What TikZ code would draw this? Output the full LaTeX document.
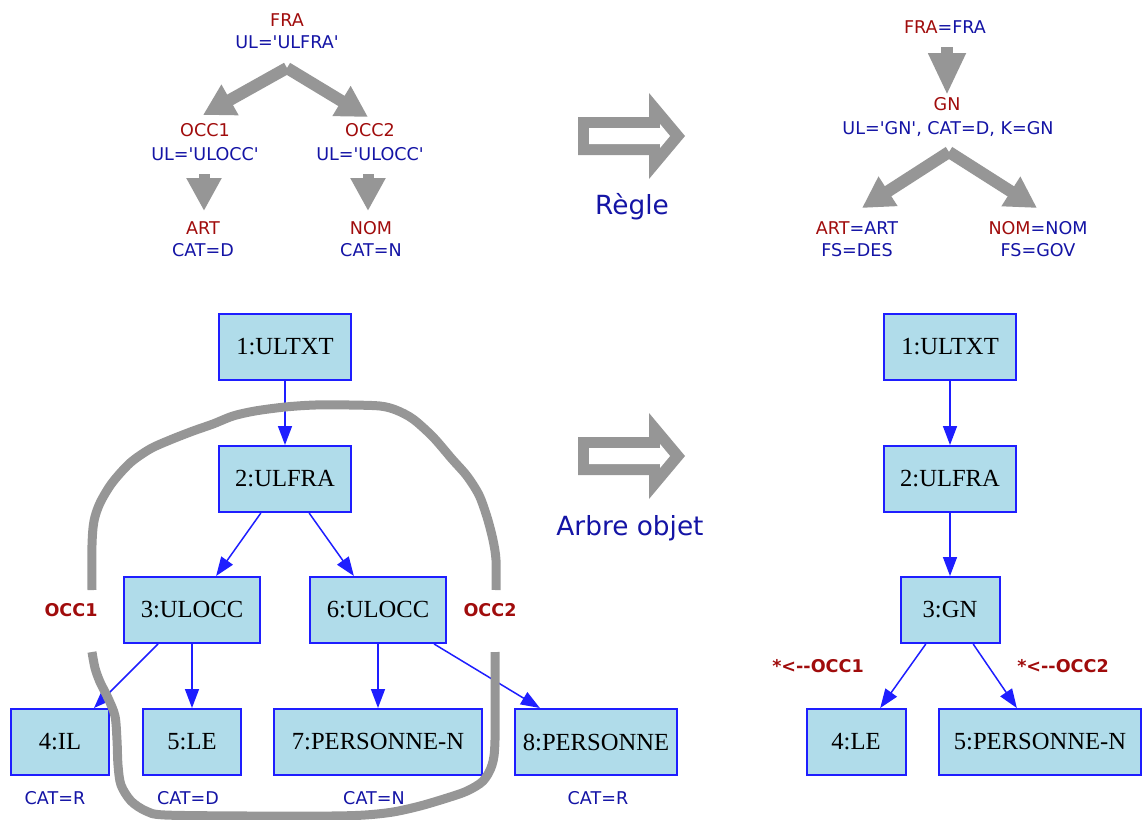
\documentclass[tikz,border=0pt]{standalone}
\usepackage{fontspec}
\newfontfamily\lblfont{DejaVu Sans}
\newfontfamily\boxfont{Liberation Serif}
\usetikzlibrary{arrows.meta}
\definecolor{lblue}{RGB}{20,20,165}
\definecolor{lred}{RGB}{160,12,12}
\definecolor{gbox}{RGB}{176,220,234}
\definecolor{gline}{RGB}{30,30,255}
\definecolor{ggrey}{RGB}{150,150,150}
\begin{document}
\begin{tikzpicture}[x=0.02cm,y=-0.02cm,
  lbl/.style={font=\lblfont\fontsize{10}{12}\selectfont, inner sep=0pt, text depth=0pt},
  rl/.style={lbl, text=lred},
  bl/.style={lbl, text=lblue},
  occ/.style={font=\lblfont\bfseries\fontsize{10}{12}\selectfont, text=lred, inner sep=0pt, text depth=0pt},
  big/.style={font=\lblfont\fontsize{15}{18}\selectfont, text=lblue, inner sep=0pt, text depth=0pt},
  tnode/.style={draw=gline, line width=0.04cm, fill=gbox, minimum height=1.32cm, inner sep=0pt,
    font=\boxfont\fontsize{14}{16}\selectfont},
  tedge/.style={draw=gline, line width=0.03cm, -{Triangle[width=0.28cm,length=0.38cm]}},
  fat/.style={draw=ggrey, line width=0.24cm, -{Triangle[width=0.66cm,length=0.62cm]}},
  fatdown/.style={draw=ggrey, line width=0.22cm, -{Triangle[width=0.66cm,length=0.66cm]}},
  loopline/.style={draw=ggrey, line width=0.18cm, line cap=butt, line join=round},
]
\useasboundingbox (0,0) rectangle (1142,819);

% ---------- top left rule pattern ----------
\node[rl] (fra) at (287,20) {FRA};
\node[bl] (fraul) at (287,42) {UL='ULFRA'};
\node[rl] (occa) at (205,130) {OCC1};
\node[bl] (occaul) at (205,154) {UL='ULOCC'};
\node[rl] (occb) at (370,130) {OCC2};
\node[bl] (occbul) at (370,154) {UL='ULOCC'};
\node[rl] (art) at (203,228) {ART};
\node[bl] (artcat) at (203,250) {CAT=D};
\node[rl] (nom) at (371,228) {NOM};
\node[bl] (nomcat) at (371,250) {CAT=N};

\coordinate (tlroot) at (287,68);
\coordinate (tlleft) at (203,115);
\coordinate (tlright) at (368,117);
\coordinate (tlad) at (204,174);
\coordinate (tlat) at (204,211);
\coordinate (tlbd) at (368,174);
\coordinate (tlbt) at (368,211);
\draw[fat] (tlroot) -- (tlleft);
\draw[fat] (tlroot) -- (tlright);
\draw[fatdown] (tlad) -- (tlat);
\draw[fatdown] (tlbd) -- (tlbt);

% ---------- top right result pattern ----------
\node[lbl] (rfra) at (945,27) {\textcolor{lred}{FRA}\textcolor{lblue}{=FRA}};
\node[rl] (gn) at (947,104) {GN};
\node[bl] (gnul) at (948,128) {UL='GN', CAT=D, K=GN};
\node[lbl] (rart) at (857,228) {\textcolor{lred}{ART}\textcolor{lblue}{=ART}};
\node[bl] (rartfs) at (857,250) {FS=DES};
\node[lbl] (rnom) at (1038,228) {\textcolor{lred}{NOM}\textcolor{lblue}{=NOM}};
\node[bl] (rnomfs) at (1038,250) {FS=GOV};

\coordinate (trtop) at (947,47);
\coordinate (trtip) at (947,95);
\coordinate (trroot) at (949,152);
\coordinate (trleft) at (862,208);
\coordinate (trright) at (1037,208);
\draw[draw=ggrey, line width=0.23cm, -{Triangle[width=0.7cm,length=0.84cm]}] (trtop) -- (trtip);
\draw[fat] (trroot) -- (trleft);
\draw[fat] (trroot) -- (trright);

% ---------- hollow arrows ----------
\foreach \dy in {0,320}{
  \fill[ggrey] (578,117+\dy) -- (649,117+\dy) -- (649,93+\dy) -- (685,136+\dy) -- (649,179+\dy) -- (649,155+\dy) -- (578,155+\dy) -- cycle;
  \fill[white] (589,128+\dy) -- (660,128+\dy) -- (660,124+\dy) -- (670,136+\dy) -- (660,148+\dy) -- (660,144+\dy) -- (589,144+\dy) -- cycle;
}
\node[big] (regle) at (632,204) {Règle};
\node[big] (arbre) at (630,525) {Arbre objet};

% ---------- bottom left tree ----------
\node[tnode, minimum width=2.64cm] (a1) at (285,347) {1:ULTXT};
\node[tnode, minimum width=2.64cm] (a2) at (285,479) {2:ULFRA};
\node[tnode, minimum width=2.72cm] (a3) at (192,610) {3:ULOCC};
\node[tnode, minimum width=2.72cm] (a6) at (378,610) {6:ULOCC};
\node[tnode, minimum width=1.98cm] (a4) at (60,742) {4:IL};
\node[tnode, minimum width=1.98cm] (a5) at (192,742) {5:LE};
\node[tnode, minimum width=4.18cm] (a7) at (378,742) {7:PERSONNE-N};
\node[tnode, minimum width=3.24cm] (a8) at (596,742) {8:PERSONNE};
\draw[tedge] (a1) -- (a2);
\draw[tedge] (a2) -- (a3);
\draw[tedge] (a2) -- (a6);
\draw[tedge] (a3) -- (a4);
\draw[tedge] (a3) -- (a5);
\draw[tedge] (a6) -- (a7);
\draw[tedge] (a6) -- (a8);
\node[bl] (c4) at (55,798) {CAT=R};
\node[bl] (c5) at (188,798) {CAT=D};
\node[bl] (c7) at (374,798) {CAT=N};
\node[bl] (c8) at (598,798) {CAT=R};
\node[occ] (locca) at (71,610) {OCC1};
\node[occ] (loccb) at (490,610) {OCC2};

% hand-drawn loop
\draw[loopline] plot[smooth, tension=0.5] coordinates {
  (92,590) (92,545) (94,521) (100,503) (112,483) (130,463) (150,449) (170,440)
  (193,431) (213,424) (233,416) (255,411) (285,407) (315,405) (350,405) (380,406)
  (396,410) (413,419) (433,437) (452,459) (467,476) (479,495) (487,517) (493,540)
  (496,560) (496,590)};
\draw[loopline] plot[smooth, tension=0.5] coordinates {
  (92,652) (95,668) (100,682) (108,698) (115,716) (117,740) (118,765) (121,785)
  (131,801) (146,811) (165,815) (250,816) (330,816) (365,815) (393,812) (420,806)
  (447,798) (467,791) (483,781) (492,765) (495,740) (495,652)};

% ---------- bottom right tree ----------
\node[tnode, minimum width=2.64cm] (b1) at (950,347) {1:ULTXT};
\node[tnode, minimum width=2.64cm] (b2) at (950,479) {2:ULFRA};
\node[tnode, minimum width=1.98cm] (b3) at (950,610) {3:GN};
\node[tnode, minimum width=1.98cm] (b4) at (856,742) {4:LE};
\node[tnode, minimum width=4.04cm] (b5) at (1040,742) {5:PERSONNE-N};
\draw[tedge] (b1) -- (b2);
\draw[tedge] (b2) -- (b3);
\draw[tedge] (b3) -- (b4);
\draw[tedge] (b3) -- (b5);
\node[occ] (rocca) at (818,666) {*<--OCC1};
\node[occ] (roccb) at (1063,666) {*<--OCC2};
\end{tikzpicture}
\end{document}
